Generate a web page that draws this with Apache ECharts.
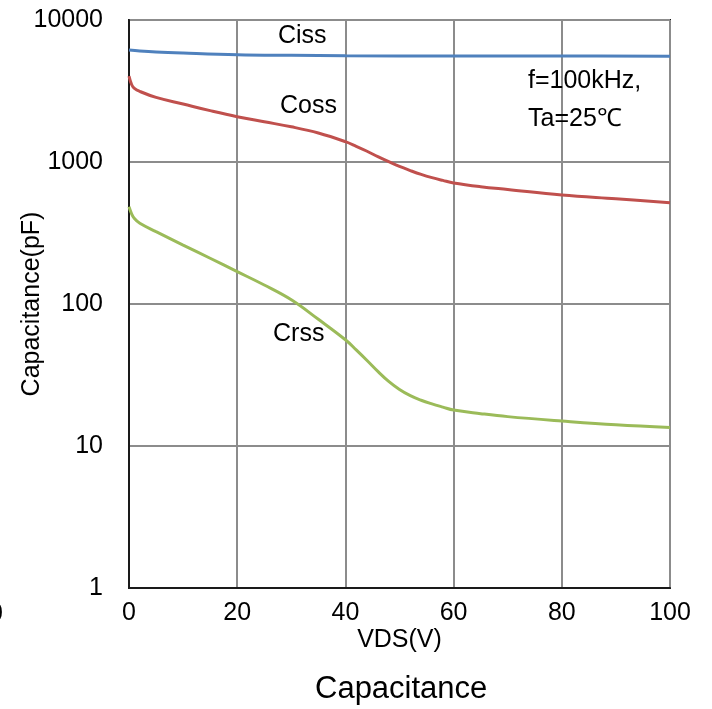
<!DOCTYPE html>
<html>
<head>
<meta charset="utf-8">
<script src="https://cdn.jsdelivr.net/npm/echarts@6/dist/echarts.min.js"></script>
<style>
  html, body { margin: 0; padding: 0; background: #fff; }
  #chart { width: 712px; height: 709px; }
</style>
</head>
<body>
<div id="chart"></div>
<script>
// VDS (V) sample points
const cissVds = [0, 2, 5, 10, 20, 30, 40, 60, 80, 100];
const cissPf = [6150, 6050, 5950, 5850, 5700, 5640, 5600, 5580, 5570, 5560];

const cossVds = [0, 0.5, 1, 2, 5, 10, 15, 20, 25, 30, 35, 40, 42, 44, 46, 48, 50, 52, 54, 56, 58, 60, 65, 70, 80, 90, 100];
const cossPf = [4030, 3500, 3300, 3140, 2850, 2560, 2300, 2085, 1920, 1770, 1600, 1390, 1290, 1190, 1090, 1005, 930, 870, 818, 776, 742, 712, 670, 640, 585, 550, 517];

const crssVds = [0, 0.5, 1, 2, 5, 10, 15, 20, 25, 30, 35, 40, 42, 44, 46, 48, 50, 52, 54, 56, 58, 60, 65, 70, 80, 90, 100];
const crssPf = [484, 430, 400, 370, 323, 260, 210, 169, 136, 107, 78, 56, 47.5, 40, 33.5, 28.5, 25, 22.6, 21, 19.8, 18.8, 17.9, 16.9, 16.1, 15.0, 14.1, 13.5];

const xTicks = [0, 20, 40, 60, 80, 100];
const yTicks = [1, 10, 100, 1000, 10000];

const font = '"Liberation Sans", Arial, sans-serif';

function pairs(xs, ys) {
  return xs.map((x, i) => [x, ys[i]]);
}

function curve(name, color, xs, ys) {
  return {
    name: name,
    type: 'line',
    data: pairs(xs, ys),
    smooth: 0.4,
    showSymbol: false,
    lineStyle: { color: color, width: 3 },
    itemStyle: { color: color },
    z: 3
  };
}

const chart = echarts.init(document.getElementById('chart'));
chart.setOption({
  animation: false,
  textStyle: { fontFamily: font },
  grid: {
    left: 129, right: 42, top: 20, bottom: 121,
    containLabel: false, outerBoundsMode: 'none',
    show: true, borderColor: '#1a1a1a', borderWidth: 2,
    backgroundColor: 'transparent'
  },
  xAxis: {
    type: 'value',
    min: xTicks[0], max: xTicks[xTicks.length - 1], interval: 20,
    name: 'VDS(V)', nameLocation: 'middle', nameGap: 40,
    nameMoveOverlap: false,
    nameTextStyle: { fontSize: 25, color: '#000', fontFamily: font },
    axisLine: { show: true, lineStyle: { color: '#1a1a1a', width: 2 } },
    axisTick: { show: false },
    axisLabel: { fontSize: 25, color: '#000', margin: 13, fontFamily: font,
      formatter: v => String(v) },
    splitLine: { show: true, lineStyle: { color: '#8c8c8c', width: 2 } }
  },
  yAxis: {
    type: 'log', logBase: 10,
    min: yTicks[0], max: yTicks[yTicks.length - 1],
    name: 'Capacitance(pF)', nameLocation: 'middle', nameGap: 84,
    nameMoveOverlap: false,
    nameTextStyle: { fontSize: 25, color: '#000', fontFamily: font },
    axisLine: { show: true, lineStyle: { color: '#1a1a1a', width: 2 } },
    axisTick: { show: false },
    axisLabel: { fontSize: 25, color: '#000', margin: 26, fontFamily: font,
      formatter: v => String(Math.round(v)) },
    splitLine: { show: true, lineStyle: { color: '#8c8c8c', width: 2 } }
  },
  series: [
    curve('Ciss', '#4F81BD', cissVds, cissPf),
    curve('Coss', '#C0504D', cossVds, cossPf),
    curve('Crss', '#9BBB59', crssVds, crssPf)
  ],
  graphic: [
    { type: 'text', left: 278, top: 24, z: 10,
      style: { text: 'Ciss', font: '25px ' + font, fill: '#000' } },
    { type: 'text', left: 280, top: 94, z: 10,
      style: { text: 'Coss', font: '25px ' + font, fill: '#000' } },
    { type: 'text', left: 273, top: 322, z: 10,
      style: { text: 'Crss', font: '25px ' + font, fill: '#000' } },
    { type: 'text', left: 528, top: 69, z: 10,
      style: { text: 'f=100kHz,', font: '25px ' + font, fill: '#000' } },
    { type: 'text', left: 528, top: 107, z: 10,
      style: { text: 'Ta=25℃', font: '25px ' + font, fill: '#000' } },
    { type: 'text', left: -11, top: 602, z: 10,
      style: { text: '0', font: '25px ' + font, fill: '#000' } },
    { type: 'text', left: 315, top: 674, z: 10,
      style: { text: 'Capacitance', font: '31px ' + font, fill: '#000' } }
  ]
});
</script>
</body>
</html>
